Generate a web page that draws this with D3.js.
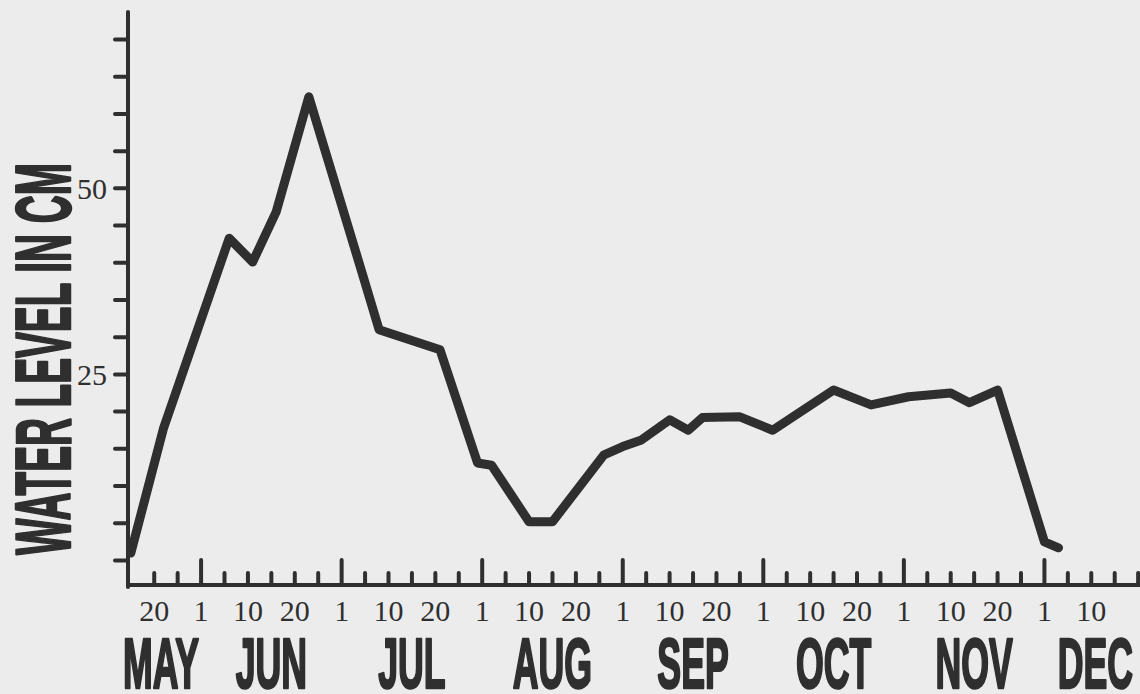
<!DOCTYPE html>
<html>
<head>
<meta charset="utf-8">
<script src="https://cdn.jsdelivr.net/npm/d3@7"></script>
<style>
  html, body { margin: 0; padding: 0; background: #ececec; }
  svg { display: block; }
</style>
</head>
<body>
<svg id="chart" width="1140" height="694"></svg>
<script>
// ---------------- data ----------------
const months = ["MAY", "JUN", "JUL", "AUG", "SEP", "OCT", "NOV", "DEC"];
const obsDates = ["May 16", "May 23", "Jun 7", "Jun 12", "Jun 17", "Jun 24",
  "Jul 5", "Jul 9", "Jul 22", "Jul 30", "Aug 3", "Aug 11", "Aug 16", "Aug 27",
  "Aug 31", "Sep 5", "Sep 11", "Sep 15", "Sep 18", "Sep 26", "Oct 3", "Oct 16",
  "Oct 24", "Nov 2", "Nov 11", "Nov 15", "Nov 21", "Dec 1", "Dec 4"];
const waterLevel = [1.0, 17.8, 43.3, 40.1, 46.8, 62.3,
  39.4, 31.0, 28.3, 13.1, 12.8, 5.2, 5.2, 14.2,
  15.3, 16.2, 18.9, 17.5, 19.2, 19.3, 17.5, 22.9,
  20.9, 22.0, 22.5, 21.2, 22.9, 2.5, 1.7];
const yTickValues = [0, 5, 10, 15, 20, 25, 30, 35, 40, 45, 50, 55, 60, 65, 70];
const yTickLabels = [25, 50];
const dayTickLabels = ["1", "", "10", "", "20", ""];   // 6 divisions per month
const yTitle = "WATER LEVEL IN CM";

// ---------------- helpers ----------------
const monthAbbr = ["Jan","Feb","Mar","Apr","May","Jun","Jul","Aug","Sep","Oct","Nov","Dec"];
// position in "months since Jun 1"
function monthPos(str) {
  const [m, d] = str.split(" ");
  return (monthAbbr.indexOf(m) - 5) + (+d - 1) / 30;
}
const firstMonthOffset = -1; // MAY is one month before JUN

const ink = "#2f2f2f";
const svg = d3.select("#chart");
const W = 1140, H = 694;

const x = d3.scaleLinear().domain([-0.52, 6.68]).range([128, 1140]);
const y = d3.scaleLinear().domain([-3.3, 73.7]).range([585, 12]);

const gAxes = svg.append("g");

// y axis line
gAxes.append("line")
  .attr("x1", x.range()[0]).attr("x2", x.range()[0])
  .attr("y1", y.range()[1]).attr("y2", y.range()[0] + 2)
  .attr("stroke", ink).attr("stroke-width", 4).attr("stroke-linecap", "round");

// x axis line
gAxes.append("line")
  .attr("x1", x.range()[0]).attr("x2", x.range()[1] + 5)
  .attr("y1", y.range()[0]).attr("y2", y.range()[0])
  .attr("stroke", ink).attr("stroke-width", 4);

// y ticks
gAxes.selectAll(".ytick").data(yTickValues).join("line")
  .attr("class", "ytick")
  .attr("x1", x.range()[0] - 13).attr("x2", x.range()[0])
  .attr("y1", d => y(d)).attr("y2", d => y(d))
  .attr("stroke", ink).attr("stroke-width", 4).attr("stroke-linecap", "round");

gAxes.selectAll(".ylab").data(yTickLabels).join("text")
  .attr("class", "ylab")
  .attr("x", x.range()[0] - 21).attr("y", d => y(d))
  .attr("dy", "0.34em")
  .attr("text-anchor", "end")
  .attr("font-family", "'Liberation Serif', 'Times New Roman', serif")
  .attr("font-size", 30)
  .attr("fill", ink)
  .text(d => d);

// x ticks: 6 per month
const kMin = -2, kMax = Math.floor(x.domain()[1] * 6);
const xTicks = d3.range(kMin, kMax + 1).map(k => ({ k, t: k / 6 }));
gAxes.selectAll(".xtick").data(xTicks).join("line")
  .attr("class", "xtick")
  .attr("x1", d => x(d.t)).attr("x2", d => x(d.t))
  .attr("y1", y.range()[0])
  .attr("y2", d => (((d.k % 6) + 6) % 6 === 0) ? y.range()[0] - 25 : y.range()[0] - 12)
  .attr("stroke", ink).attr("stroke-width", 4).attr("stroke-linecap", "round");

// day labels
const dayLabels = xTicks
  .map(d => ({ t: d.t, label: dayTickLabels[((d.k % 6) + 6) % 6] }))
  .filter(d => d.label !== "" && x(d.t) < W - 20);
gAxes.selectAll(".xlab").data(dayLabels).join("text")
  .attr("class", "xlab")
  .attr("x", d => x(d.t)).attr("y", 621)
  .attr("text-anchor", "middle")
  .attr("font-family", "'Liberation Serif', 'Times New Roman', serif")
  .attr("font-size", 30)
  .attr("fill", ink)
  .text(d => d.label);

// month labels (condensed bold)
const condX = 0.51;
const monthG = gAxes.selectAll(".mlab").data(months).join("g").attr("class", "mlab");
monthG.each(function(m, i) {
  const g = d3.select(this);
  const t = g.append("text")
    .attr("text-anchor", "middle")
    .attr("font-family", "'Liberation Sans', Arial, sans-serif")
    .attr("font-weight", "bold")
    .attr("font-size", 70)
    .attr("fill", ink).attr("stroke", ink).attr("stroke-width", 2.5)
    .attr("stroke-linejoin", "round")
    .text(m);
  const w = t.node().getComputedTextLength() * condX;
  let cx = x(i + firstMonthOffset + 0.5);
  cx = Math.max(cx, x.range()[0] - 5 + w / 2);
  cx = Math.min(cx, W - 7 - w / 2);
  g.attr("transform", `translate(${cx},688) scale(${condX},1)`);
});

// y title
const yTitleG = svg.append("g");
const yt = yTitleG.append("text")
  .attr("text-anchor", "middle")
  .attr("font-family", "'Liberation Sans', Arial, sans-serif")
  .attr("font-weight", "bold")
  .attr("font-size", 78)
  .attr("fill", ink).attr("stroke", ink).attr("stroke-width", 2.5)
  .attr("stroke-linejoin", "round")
  .text(yTitle);
const ytLen = yt.node().getComputedTextLength();
const ytScale = 392 / ytLen;
yTitleG.attr("transform", `translate(70,359) rotate(-90) scale(${ytScale},1)`);

// data line
const pts = obsDates.map((d, i) => ({ t: monthPos(d), v: waterLevel[i] }));
svg.append("path")
  .datum(pts)
  .attr("d", d3.line().x(d => x(d.t)).y(d => y(d.v)))
  .attr("fill", "none")
  .attr("stroke", ink)
  .attr("stroke-width", 9)
  .attr("stroke-linejoin", "round")
  .attr("stroke-linecap", "round");
</script>
</body>
</html>
